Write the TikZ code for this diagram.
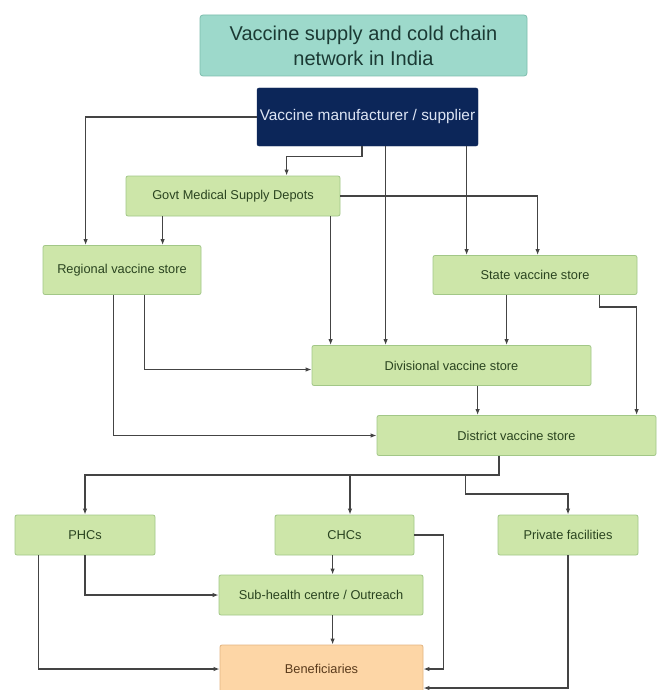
\documentclass[tikz,border=0pt]{standalone}
\usepackage{fontspec}
\setmainfont{Liberation Sans}
\usetikzlibrary{arrows.meta}
\definecolor{boxgreen}{HTML}{CDE6A9}
\definecolor{edgegreen}{HTML}{A2C787}
\definecolor{textgreen}{HTML}{2A4420}
\definecolor{titlefill}{HTML}{9DD9CB}
\definecolor{titleedge}{HTML}{7DBDAD}
\definecolor{titletext}{HTML}{1B3A34}
\definecolor{navy}{HTML}{0C2659}
\definecolor{navytext}{HTML}{DDE5F4}
\definecolor{benfill}{HTML}{FDD6A6}
\definecolor{benedge}{HTML}{E3B582}
\definecolor{bentext}{HTML}{5A3B1C}
\definecolor{linegray}{HTML}{444444}
\tikzset{
  gbox/.style={draw=edgegreen, fill=boxgreen, rounded corners=2pt, line width=0.8pt,
    text=textgreen, font=\fontsize{12.8}{15}\selectfont, inner sep=0pt, align=center},
  titlebox/.style={draw=titleedge, fill=titlefill, rounded corners=3pt, line width=0.8pt,
    text=titletext, font=\fontsize{20}{25}\selectfont, inner sep=0pt, align=center},
  navybox/.style={draw=navy, fill=navy, rounded corners=2pt, text=navytext,
    font=\fontsize{15.4}{18}\selectfont, inner sep=0pt, align=center},
  benbox/.style={draw=benedge, fill=benfill, rounded corners=2pt, line width=0.8pt,
    text=bentext, font=\fontsize{12.8}{15}\selectfont, inner sep=0pt, align=center},
  arr/.style={draw=linegray, line width=1.2pt, -{Latex[length=6pt,width=4.5pt]}},
  sz/.style n args={2}{minimum width=#1pt, minimum height=#2pt}
}
\begin{document}
\begin{tikzpicture}[x=1pt,y=-1pt]
\clip (0,0) rectangle (664,690);
\fill[white] (0,0) rectangle (664,690);

\node[titlebox, sz={327}{61}] (title) at (363.5,45.5) {Vaccine supply and cold chain\\network in India};
\node[navybox, sz={221}{58}] (man) at (367.5,117) {Vaccine manufacturer / supplier};
\node[gbox, sz={214}{40}] (govt) at (233,196) {Govt Medical Supply Depots};
\node[gbox, sz={158}{49}] (reg) at (122,270) {Regional vaccine store};
\node[gbox, sz={204}{39}] (state) at (535,275) {State vaccine store};
\node[gbox, sz={279}{40}] (div) at (451.5,365.5) {Divisional vaccine store};
\node[gbox, sz={279}{40}] (dist) at (516.5,435.5) {District vaccine store};
\node[gbox, sz={140}{40}] (phc) at (85,535) {PHCs};
\node[gbox, sz={139}{40}] (chc) at (344.5,535) {CHCs};
\node[gbox, sz={140}{40}] (priv) at (568,535) {Private facilities};
\node[gbox, sz={204}{40}] (sub) at (321,595) {Sub-health centre / Outreach};
\node[benbox, sz={203}{48}] (ben) at (321.5,669) {Beneficiaries};

% manufacturer outputs
\draw[arr] (man.west) -| ([xshift=43pt]reg.north west);
\draw[arr] ([xshift=-5.5pt]man.south) -- ++(0,10) -| ([xshift=161pt]govt.north west);
\coordinate (mdiv) at ([xshift=74pt]div.north west);
\draw[arr] (man.south -| mdiv) -- (mdiv);
\coordinate (mstate) at ([xshift=34pt]state.north west);
\draw[arr] (man.south -| mstate) -- (mstate);

% govt outputs
\draw[arr] (govt.east) -| ([xshift=105pt]state.north west);
\coordinate (greg) at ([xshift=37pt]govt.south west);
\draw[arr] (greg) -- (greg |- reg.north);
\coordinate (gdiv) at ([xshift=205pt]govt.south west);
\draw[arr] (gdiv) -- (gdiv |- div.north);

% regional outputs
\draw[arr] ([xshift=102pt]reg.south west) |- ([yshift=-4pt]div.west);
\draw[arr] ([xshift=71pt]reg.south west) |- (dist.west);

% state outputs
\coordinate (sdiv) at ([xshift=74pt]state.south west);
\draw[arr] (sdiv) -- (sdiv |- div.north);
\draw[arr] ([xshift=167pt]state.south west) -- ++(0,12) -| ([xshift=260pt]dist.north west);

% divisional -> district
\coordinate (ddist) at ([xshift=166pt]div.south west);
\draw[arr] (ddist) -- (ddist |- dist.north);

% district outputs
\coordinate (bus) at ([xshift=-17.5pt,yshift=-19pt]dist.south);
\draw[arr] ([xshift=-17.5pt]dist.south) -- (bus) -| (phc.north);
\coordinate (cin) at ([xshift=5.5pt]chc.north);
\draw[arr] (bus -| cin) -- (cin);
\coordinate (pb) at ([xshift=89pt]dist.south west);
\draw[arr] (bus -| pb) -- ++(0,19) -| (priv.north);

% PHC outputs
\draw[arr] ([xshift=24pt]phc.south west) |- (ben.west);
\draw[arr] (phc.south) |- (sub.west);

% CHC outputs
\coordinate (csub) at ([xshift=58pt]chc.south west);
\draw[arr] (csub) -- (csub |- sub.north);
\draw[arr] (chc.east) -- ++(29,0) |- (ben.east);

% sub -> ben
\coordinate (sben) at ([xshift=114pt]sub.south west);
\draw[arr] (sben) -- (sben |- ben.north);

% private -> ben
\draw[arr] (priv.south) |- ([yshift=-19pt]ben.east);
\end{tikzpicture}
\end{document}
